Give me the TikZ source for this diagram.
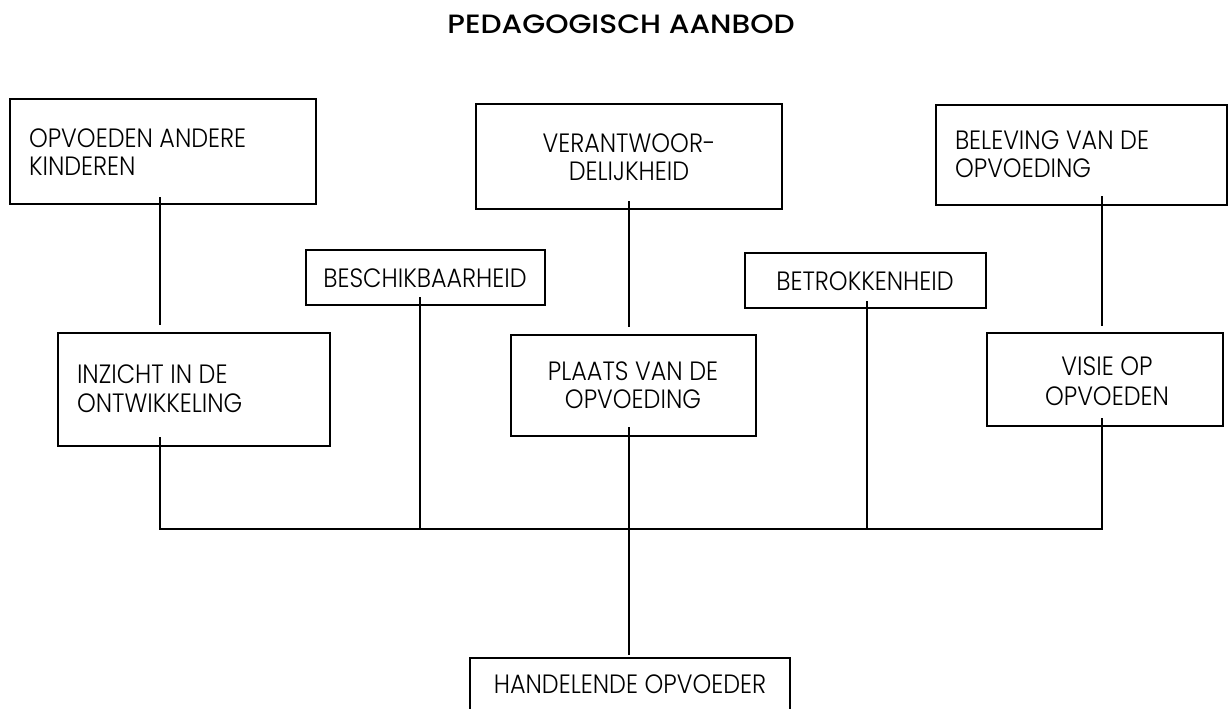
\documentclass[tikz,border=0pt]{standalone}
\usepackage{fontspec}
\setmainfont{Poppins Light}[FakeStretch=0.9]
\newfontfamily\titlefont{Poppins Medium}[FakeStretch=1.12]
\usetikzlibrary{calc}
\tikzset{
  box/.style={draw=black, line width=2.7pt, rectangle, inner sep=0pt, outer sep=0pt, fill=white},
  conn/.style={draw=black, line width=1.7pt},
  lbl/.style={inner sep=0pt, outer sep=0pt, font=\fontsize{26.5}{28.5}\selectfont},
  ttl/.style={inner sep=0pt, outer sep=0pt, font=\titlefont\fontsize{26.5}{30}\selectfont},
}
\begin{document}
\begin{tikzpicture}[x=1pt, y=-1pt]
\useasboundingbox (0,0) rectangle (1229,709);
% boxes
\node[box, minimum width=306pt, minimum height=105pt] (b1) at (163,151.5) {};
\node[box, minimum width=306pt, minimum height=105pt] (bV) at (629,156.5) {};
\node[box, minimum width=291pt, minimum height=100pt] (bB) at (1081.5,155) {};
\node[box, minimum width=239pt, minimum height=55pt] (bS) at (425.5,277.5) {};
\node[box, minimum width=241pt, minimum height=55pt] (bT) at (865.5,280.5) {};
\node[box, minimum width=272pt, minimum height=113pt] (bI) at (194,389.5) {};
\node[box, minimum width=245pt, minimum height=101pt] (bP) at (633.5,385.5) {};
\node[box, minimum width=236pt, minimum height=93pt] (bW) at (1105,379.5) {};
\node[box, minimum width=320pt, minimum height=82pt] (bH) at (630,699) {};
% junction points
\coordinate (jA) at (160,529);
\coordinate (jB) at (420,529);
\coordinate (jC) at (629,529);
\coordinate (jD) at (867,529);
\coordinate (jE) at (1102,529);
% connectors
\draw[conn] ([yshift=7pt]b1.south -| jA) -- ([yshift=8pt]bI.north -| jA);
\draw[conn] ([yshift=8pt]bV.south -| jC) -- ([yshift=8pt]bP.north -| jC);
\draw[conn] ([yshift=9pt]bB.south -| jE) -- ([yshift=7pt]bW.north -| jE);
\draw[conn] ([yshift=9pt]bI.south -| jA) -- (jA) -- (jE) -- ([yshift=8pt]bW.south -| jE);
\draw[conn] ([yshift=8pt]bS.south -| jB) -- (jB);
\draw[conn] ([yshift=7pt]bT.south -| jD) -- (jD);
\draw[conn] ([yshift=9pt]bP.south -| jC) -- ([yshift=3pt]bH.north -| jC);
% texts
\node[ttl, anchor=base] (title) at (621,34) {PEDAGOGISCH AANBOD};
\node[lbl, anchor=base west] (t1a) at (29,147) {OPVOEDEN ANDERE};
\node[lbl, anchor=base west] (t1b) at (29,175) {KINDEREN};
\node[lbl, anchor=base] (tVa) at (629,152) {VERANTWOOR-};
\node[lbl, anchor=base] (tVb) at (629,180) {DELIJKHEID};
\node[lbl, anchor=base west] (tBa) at (955,149) {BELEVING VAN DE};
\node[lbl, anchor=base west] (tBb) at (955,177) {OPVOEDING};
\node[lbl, anchor=base] (tS) at (425,287) {BESCHIKBAARHEID};
\node[lbl, anchor=base] (tT) at (865,290) {BETROKKENHEID};
\node[lbl, anchor=base west] (tIa) at (77,383) {INZICHT IN DE};
\node[lbl, anchor=base west] (tIb) at (77,412) {ONTWIKKELING};
\node[lbl, anchor=base] (tPa) at (633,380) {PLAATS VAN DE};
\node[lbl, anchor=base] (tPb) at (633,408) {OPVOEDING};
\node[lbl, anchor=base] (tWa) at (1107,375) {VISIE OP};
\node[lbl, anchor=base] (tWb) at (1107,405) {OPVOEDEN};
\node[lbl, anchor=base] (tH) at (630,693) {HANDELENDE OPVOEDER};
\end{tikzpicture}
\end{document}
